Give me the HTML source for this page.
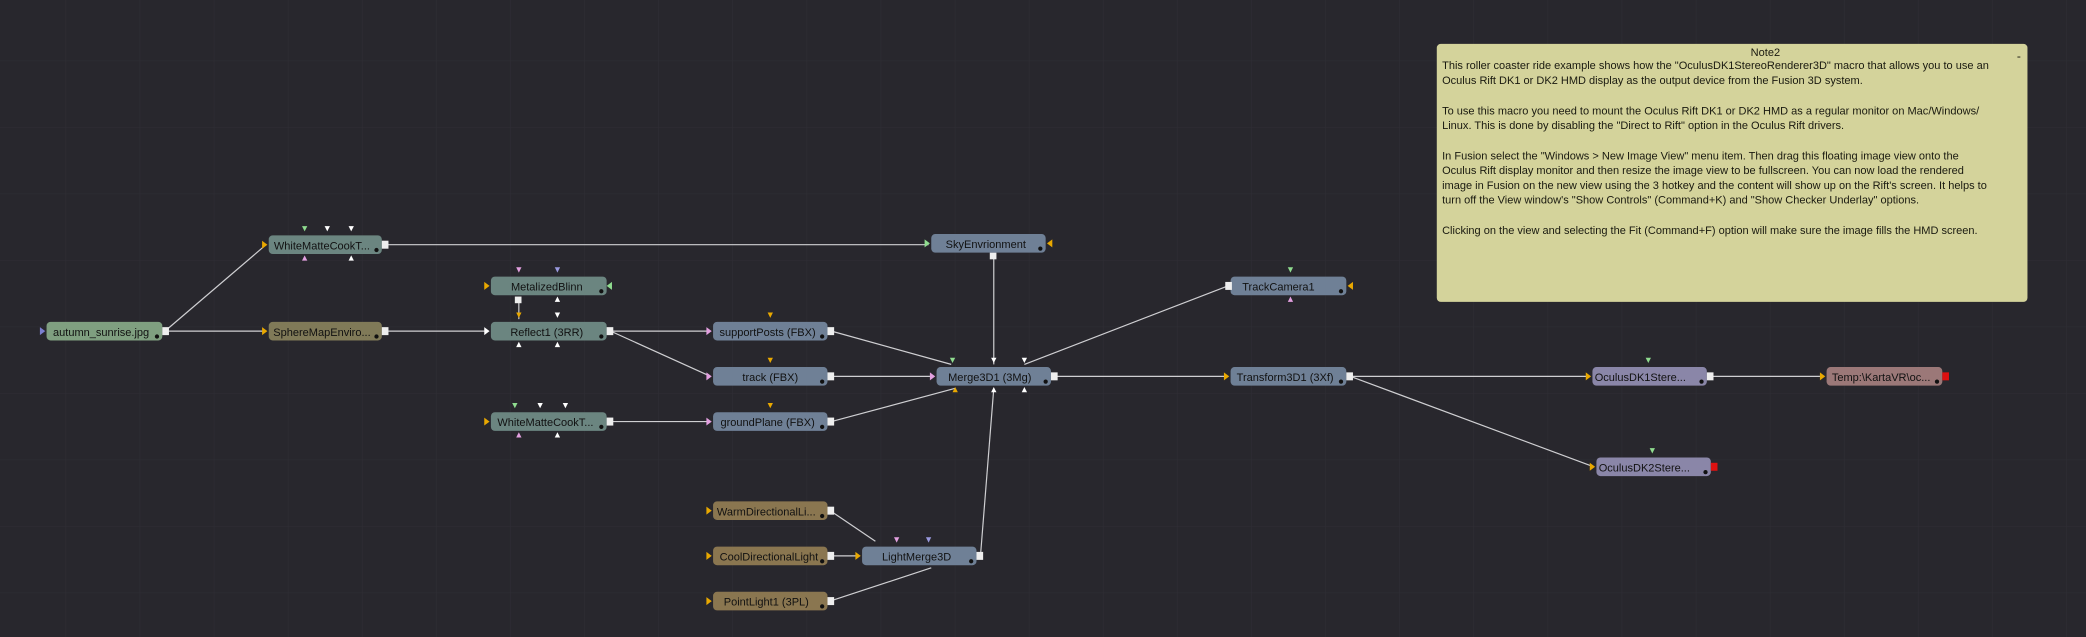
<!DOCTYPE html>
<html><head><meta charset="utf-8"><style>
html,body{margin:0;padding:0;background:#28272d;overflow:hidden}
svg{display:block}
text{font-family:"Liberation Sans",sans-serif}
</style></head><body>
<svg width="2086" height="637" viewBox="0 0 1568 479" preserveAspectRatio="none" xmlns="http://www.w3.org/2000/svg">
<defs>
<pattern id="g" width="55.7" height="50" patternUnits="userSpaceOnUse" x="-6" y="-4">
<path d="M55.7 0V50M0 50H55.7" stroke="#2f2e35" stroke-width="0.8" fill="none"/>
</pattern>
</defs>
<rect width="1568" height="479" fill="#28272d"/>
<rect width="1568" height="479" fill="url(#g)"/>

<g stroke="#cfcfd2" stroke-width="0.9" fill="none">
<path d="M124 249L200 184"/><path d="M124 249H200"/>
<path d="M290 184H698"/><path d="M290 249H367"/>
<path d="M390 224V240"/>
<path d="M459 249H534"/><path d="M459 249L534 283"/>
<path d="M459 317H534"/>
<path d="M747 192V274"/>
<path d="M625 249L715 274"/><path d="M625 283H702"/><path d="M625 317L718 292"/>
<path d="M923 215L770 274"/>
<path d="M737 418L747 292"/>
<path d="M793 283H923"/>
<path d="M1015 283H1195"/><path d="M1015 283L1198 351"/>
<path d="M1286 283H1371"/>
<path d="M624 384L658 407"/><path d="M624 418H646"/><path d="M624 452L700 427"/>
</g>

<!-- nodes -->
<g font-size="8.3" text-anchor="middle" fill="#111">
<g id="nodes">
<rect x="35" y="242" width="87" height="14" rx="3" fill="#7f9f80"/><text x="76" y="252.5">autumn_sunrise.jpg</text>
<rect x="202" y="177" width="85" height="14" rx="3" fill="#6b8580"/><text x="242" y="187.5">WhiteMatteCookT...</text>
<rect x="202" y="242" width="85" height="14" rx="3" fill="#807a58"/><text x="242" y="252.5">SphereMapEnviro...</text>
<rect x="369" y="208" width="87" height="14" rx="3" fill="#6b8580"/><text x="411" y="218.5">MetalizedBlinn</text>
<rect x="369" y="242" width="87" height="14" rx="3" fill="#6b8580"/><text x="411" y="252.5">Reflect1  (3RR)</text>
<rect x="369" y="310" width="87" height="14" rx="3" fill="#6b8580"/><text x="410" y="320.5">WhiteMatteCookT...</text>
<rect x="700" y="176" width="86" height="14" rx="3" fill="#6f8096"/><text x="741" y="186.5">SkyEnvrionment</text>
<rect x="536" y="242" width="86" height="14" rx="3" fill="#6f8096"/><text x="577" y="252.5">supportPosts  (FBX)</text>
<rect x="536" y="276" width="86" height="14" rx="3" fill="#6f8096"/><text x="579" y="286.5">track  (FBX)</text>
<rect x="536" y="310" width="86" height="14" rx="3" fill="#6f8096"/><text x="577" y="320.5">groundPlane  (FBX)</text>
<rect x="704" y="276" width="86" height="14" rx="3" fill="#6f8096"/><text x="744" y="286.5">Merge3D1  (3Mg)</text>
<rect x="925" y="208" width="87" height="14" rx="3" fill="#6f8096"/><text x="961" y="218.5">TrackCamera1</text>
<rect x="925" y="276" width="87" height="14" rx="3" fill="#6f8096"/><text x="966" y="286.5">Transform3D1  (3Xf)</text>
<rect x="1197" y="276" width="86" height="14" rx="3" fill="#8a86a8"/><text x="1233" y="286.5">OculusDK1Stere...</text>
<rect x="1373" y="276" width="87" height="14" rx="3" fill="#9b7878"/><text x="1414" y="286.5">Temp:\KartaVR\oc...</text>
<rect x="1200" y="344" width="86" height="14" rx="3" fill="#8a86a8"/><text x="1236" y="354.5">OculusDK2Stere...</text>
<rect x="536" y="377" width="86" height="14" rx="3" fill="#8a7650"/><text x="576" y="387.5">WarmDirectionalLi...</text>
<rect x="536" y="411" width="86" height="14" rx="3" fill="#8a7650"/><text x="578" y="421.5">CoolDirectionalLight</text>
<rect x="648" y="411" width="86" height="14" rx="3" fill="#6f8096"/><text x="689" y="421.5">LightMerge3D</text>
<rect x="536" y="445" width="86" height="14" rx="3" fill="#8a7650"/><text x="576" y="455.5">PointLight1  (3PL)</text>
</g>
</g>

<!-- output dots -->
<g fill="#111">
<circle cx="118" cy="253" r="1.6"/><circle cx="283" cy="188" r="1.6"/><circle cx="283" cy="253" r="1.6"/>
<circle cx="452" cy="219" r="1.6"/><circle cx="452" cy="253" r="1.6"/><circle cx="452" cy="321" r="1.6"/>
<circle cx="782" cy="187" r="1.6"/><circle cx="618" cy="253" r="1.6"/><circle cx="618" cy="287" r="1.6"/>
<circle cx="618" cy="321" r="1.6"/><circle cx="786" cy="287" r="1.6"/><circle cx="1008" cy="219" r="1.6"/>
<circle cx="1008" cy="287" r="1.6"/><circle cx="1279" cy="287" r="1.6"/><circle cx="1456" cy="287" r="1.6"/>
<circle cx="1282" cy="355" r="1.6"/><circle cx="618" cy="388" r="1.6"/><circle cx="618" cy="422" r="1.6"/>
<circle cx="730" cy="422" r="1.6"/><circle cx="618" cy="456" r="1.6"/>
</g>

<!-- output squares -->
<g fill="#eee">
<rect x="122" y="246" width="5" height="6"/><rect x="287" y="181" width="5" height="6"/><rect x="287" y="246" width="5" height="6"/>
<rect x="456" y="246" width="5" height="6"/><rect x="456" y="314" width="5" height="6"/><rect x="387" y="223" width="5" height="5"/>
<rect x="744" y="190" width="5" height="5"/><rect x="622" y="246" width="5" height="6"/><rect x="622" y="280" width="5" height="6"/>
<rect x="622" y="314" width="5" height="6"/><rect x="790" y="280" width="5" height="6"/><rect x="921" y="212" width="5" height="6"/>
<rect x="1012" y="280" width="5" height="6"/><rect x="1283" y="280" width="5" height="6"/>
<rect x="622" y="381" width="5" height="6"/><rect x="622" y="415" width="5" height="6"/><rect x="734" y="415" width="5" height="6"/>
<rect x="622" y="449" width="5" height="6"/>
</g>
<rect x="1460" y="280" width="5" height="6" fill="#d11"/>
<rect x="1286" y="348" width="5" height="6" fill="#d11"/>

<!-- input triangles (right-pointing) -->
<g>
<path d="M30 246l4 3-4 3z" fill="#7b7fd0"/>
<path d="M197 181l4 3-4 3z" fill="#e9a800"/>
<path d="M197 246l4 3-4 3z" fill="#e9a800"/>
<path d="M364 212l4 3-4 3z" fill="#e9a800"/>
<path d="M364 246l4 3-4 3z" fill="#fff"/>
<path d="M364 314l4 3-4 3z" fill="#e9a800"/>
<path d="M695 180l4 3-4 3z" fill="#8fdc8f"/>
<path d="M531 246l4 3-4 3z" fill="#e3a0e0"/>
<path d="M531 280l4 3-4 3z" fill="#e3a0e0"/>
<path d="M531 314l4 3-4 3z" fill="#e3a0e0"/>
<path d="M699 280l4 3-4 3z" fill="#e3a0e0"/>
<path d="M920 280l4 3-4 3z" fill="#e9a800"/>
<path d="M1192 280l4 3-4 3z" fill="#e9a800"/>
<path d="M1368 280l4 3-4 3z" fill="#e9a800"/>
<path d="M1195 348l4 3-4 3z" fill="#e9a800"/>
<path d="M531 381l4 3-4 3z" fill="#e9a800"/>
<path d="M531 415l4 3-4 3z" fill="#e9a800"/>
<path d="M643 415l4 3-4 3z" fill="#e9a800"/>
<path d="M531 449l4 3-4 3z" fill="#e9a800"/>
<!-- left-pointing on right side -->
<path d="M791 180l-4 3 4 3z" fill="#e9a800"/>
<path d="M1017 212l-4 3 4 3z" fill="#e9a800"/>
<path d="M460 212l-4 3 4 3z" fill="#8fdc8f"/>
</g>
<!-- down triangles (top inputs) -->
<g>
<path d="M227 170h4l-2 4z" fill="#8fdc8f"/><path d="M244 170h4l-2 4z" fill="#fff"/><path d="M262 170h4l-2 4z" fill="#fff"/>
<path d="M388 201h4l-2 4z" fill="#e3a0e0"/><path d="M417 201h4l-2 4z" fill="#9a9ae0"/>
<path d="M388 235h4l-2 4z" fill="#e9a800"/><path d="M417 235h4l-2 4z" fill="#fff"/>
<path d="M385 303h4l-2 4z" fill="#8fdc8f"/><path d="M404 303h4l-2 4z" fill="#fff"/><path d="M423 303h4l-2 4z" fill="#fff"/>
<path d="M577 235h4l-2 4z" fill="#e9a800"/><path d="M577 269h4l-2 4z" fill="#e9a800"/><path d="M577 303h4l-2 4z" fill="#e9a800"/>
<path d="M714 269h4l-2 4z" fill="#8fdc8f"/><path d="M745 269h4l-2 4z" fill="#fff"/><path d="M768 269h4l-2 4z" fill="#fff"/>
<path d="M968 201h4l-2 4z" fill="#8fdc8f"/>
<path d="M1237 269h4l-2 4z" fill="#8fdc8f"/><path d="M1240 337h4l-2 4z" fill="#8fdc8f"/>
<path d="M672 404h4l-2 4z" fill="#e3a0e0"/><path d="M696 404h4l-2 4z" fill="#9a9ae0"/>
</g>
<!-- up triangles (bottom inputs) -->
<g>
<path d="M227 196h4l-2-4z" fill="#e3a0e0"/><path d="M262 196h4l-2-4z" fill="#fff"/>
<path d="M417 227h4l-2-4z" fill="#fff"/>
<path d="M388 261h4l-2-4z" fill="#fff"/><path d="M417 261h4l-2-4z" fill="#fff"/>
<path d="M388 329h4l-2-4z" fill="#e3a0e0"/><path d="M417 329h4l-2-4z" fill="#fff"/>
<path d="M716 295h4l-2-4z" fill="#e9a800"/><path d="M745 295h4l-2-4z" fill="#fff"/><path d="M768 295h4l-2-4z" fill="#fff"/>
<path d="M968 227h4l-2-4z" fill="#e3a0e0"/>
</g>

<!-- note -->
<rect x="1080" y="33" width="444" height="194" rx="3" fill="#d4d39b"/>
<g font-size="8.3" fill="#1a1a10">
<text x="1327" y="42" text-anchor="middle">Note2</text>
<text x="1516" y="45" font-size="9">-</text>
<text x="1084" y="52">This roller coaster ride example shows how the "OculusDK1StereoRenderer3D" macro that allows you to use an</text>
<text x="1084" y="63">Oculus Rift DK1 or DK2 HMD display as the output device from the Fusion 3D system.</text>
<text x="1084" y="86">To use this macro you need to mount the Oculus Rift DK1 or DK2 HMD as a regular monitor on Mac/Windows/</text>
<text x="1084" y="97">Linux. This is done by disabling the "Direct to Rift" option in the Oculus Rift drivers.</text>
<text x="1084" y="120">In Fusion select the "Windows  &gt; New Image View"  menu item. Then drag this floating image view onto the</text>
<text x="1084" y="131">Oculus Rift display monitor and then resize the image view to be fullscreen.  You can now load the rendered</text>
<text x="1084" y="142">image in Fusion on the new view using the 3 hotkey and the content will show up on the Rift's screen. It helps to</text>
<text x="1084" y="153">turn off the View window's "Show Controls" (Command+K) and "Show Checker Underlay" options.</text>
<text x="1084" y="176">Clicking on the view and selecting the Fit (Command+F) option will make sure the image fills the HMD screen.</text>
</g>
</svg>
</body></html>
